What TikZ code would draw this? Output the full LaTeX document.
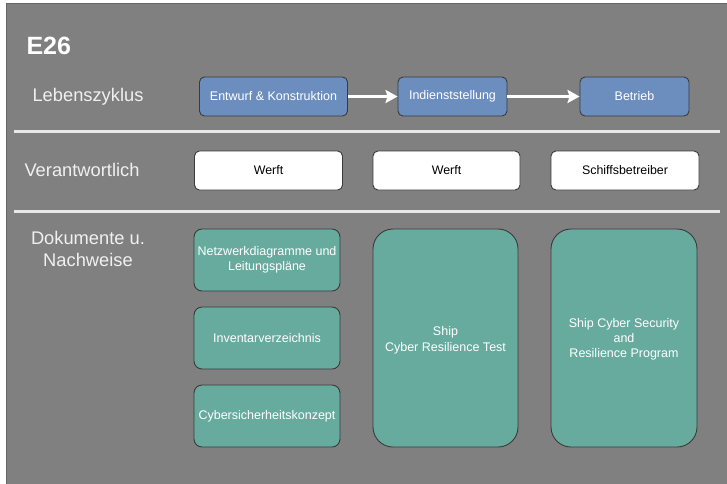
\documentclass[tikz,border=0pt]{standalone}
\usepackage{fontspec}
\setmainfont{Liberation Sans}
\usetikzlibrary{arrows.meta}
\definecolor{bg}{HTML}{808080}
\definecolor{bluebox}{HTML}{6C8EBF}
\definecolor{tealbox}{HTML}{67AB9F}
\definecolor{edge}{HTML}{3A3A3A}
\definecolor{sepline}{HTML}{E8E8E8}
\tikzset{
  phase/.style={draw=edge, line width=0.9pt, fill=bluebox, rounded corners=5pt, text=white, font=\fontsize{12.5}{15}\selectfont, align=center},
  resp/.style={draw=edge, line width=0.9pt, fill=white, rounded corners=5pt, text=black, font=\fontsize{12.4}{15}\selectfont, align=center},
  docsmall/.style={draw=edge, line width=0.9pt, fill=tealbox, rounded corners=8pt, text=white, font=\fontsize{12.5}{15.5}\selectfont, align=center},
  docbig/.style={draw=edge, line width=0.9pt, fill=tealbox, rounded corners=20pt, text=white, font=\fontsize{12.5}{15.5}\selectfont, align=center},
  rowlabel/.style={text=white!94!black, font=\fontsize{18.3}{22}\selectfont, align=center},
  flow/.style={draw=white, line width=3.5pt, -{Stealth[length=12pt,width=13pt,inset=2pt]}},
  sep/.style={draw=sepline, line width=3pt},
}
\begin{document}
\begin{tikzpicture}[x=1pt,y=-1pt]
\useasboundingbox (0,0) rectangle (727,483);
\fill[white] (0,0) rectangle (727,483);
\draw[fill=bg, draw=bg!80!black, line width=1pt] (6.5,3.5) rectangle (740,490);
% title
\node[text=white, font=\fontsize{25}{30}\selectfont\bfseries, anchor=west] (title) at (23,46) {E26};
% row labels
\node[rowlabel] (lz) at (88,97) {Lebenszyklus};
\node[rowlabel] (va) at (82,170) {Verantwortlich};
\node[rowlabel] (dn) at (88,249) {Dokumente u.\\Nachweise};
% separators
\coordinate (s1a) at (14,131); \coordinate (s1b) at (720,131);
\coordinate (s2a) at (14,211); \coordinate (s2b) at (720,211);
\draw[sep] (s1a) -- (s1b);
\draw[sep] (s2a) -- (s2b);
% lifecycle phases
\node[phase, minimum width=148pt, minimum height=39pt] (p1) at (273.5,96.5) {Entwurf \& Konstruktion};
\node[phase, minimum width=109pt, minimum height=39pt] (p2) at (452.5,96.5) {Indienststellung};
\node[phase, minimum width=109pt, minimum height=39pt] (p3) at (634.5,96.5) {Betrieb};
\draw[flow] (p1) -- (p2);
\draw[flow] (p2) -- (p3);
% responsible
\node[resp, minimum width=148pt, minimum height=39pt] (r1) at (268.5,170.5) {Werft};
\node[resp, minimum width=147pt, minimum height=39pt] (r2) at (446.5,170.5) {Werft};
\node[resp, minimum width=148pt, minimum height=39pt] (r3) at (625,170.5) {Schiffsbetreiber};
% documents
\node[docsmall, minimum width=146pt, minimum height=62pt] (d1) at (267,260) {Netzwerkdiagramme und\\Leitungspläne};
\node[docsmall, minimum width=146pt, minimum height=62pt] (d2) at (267,338) {Inventarverzeichnis};
\node[docsmall, minimum width=146pt, minimum height=62pt] (d3) at (267,416) {Cybersicherheitskonzept};
\node[docbig, minimum width=145pt, minimum height=218pt] (d4) at (445.5,338) {};
\node[docbig, minimum width=146pt, minimum height=218pt] (d5) at (624,338) {};
\node[text=white, font=\fontsize{12.5}{15.7}\selectfont, align=center] (t4) at (445.5,340) {Ship\\Cyber Resilience Test};
\node[text=white, font=\fontsize{12.5}{15}\selectfont, align=center] (t5) at (624,339) {Ship Cyber Security\\and\\Resilience Program};
\end{tikzpicture}
\end{document}
